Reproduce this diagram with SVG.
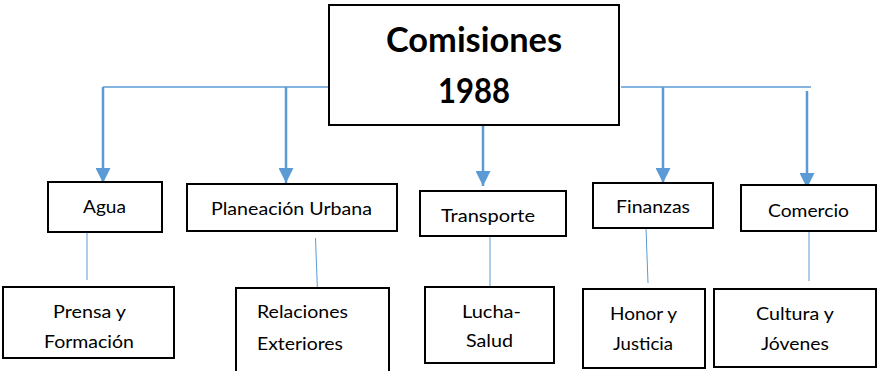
<svg xmlns="http://www.w3.org/2000/svg" width="878" height="371" viewBox="0 0 878 371">
<style>
.box{fill:#fff;stroke:#000;stroke-width:2}
.t{font-family:Lato,"Open Sans","Liberation Sans",sans-serif;font-size:18px;fill:#000;text-anchor:middle}
.h{font-family:Lato,"Open Sans","Liberation Sans",sans-serif;font-size:34px;font-weight:bold;fill:#000;text-anchor:middle}
.main{fill:none;stroke:#5B9BD5;stroke-width:1.5}
.arr{fill:none;stroke:#5B9BD5;stroke-width:2.5;marker-end:url(#ah)}
.thin{fill:none;stroke:#5B9BD5;stroke-width:1}
</style>
<defs>
<marker id="ah" markerUnits="userSpaceOnUse" markerWidth="16" markerHeight="15" refX="15" refY="7.5" orient="auto">
<path d="M0,0 L15,7.5 L0,15 Z" fill="#5B9BD5"/>
</marker>
</defs>
<g id="connectors">
<line class="main" x1="103" y1="87" x2="329" y2="87"/>
<line class="main" x1="621" y1="87" x2="811" y2="87"/>
<line class="arr" x1="103" y1="87" x2="103" y2="183"/>
<line class="arr" x1="286" y1="87" x2="286" y2="183"/>
<line class="arr" x1="483" y1="126" x2="483" y2="186"/>
<line class="arr" x1="663" y1="87" x2="663" y2="183"/>
<line class="arr" x1="807" y1="91" x2="807" y2="188"/>
<line class="thin" x1="87" y1="232" x2="87" y2="280"/>
<line class="thin" x1="315.5" y1="238" x2="317.5" y2="292"/>
<line class="thin" x1="490" y1="236" x2="490" y2="287"/>
<line class="thin" x1="646" y1="228" x2="648" y2="283"/>
<line class="thin" x1="809" y1="221" x2="809" y2="281"/>
</g>
<g id="n-main">
<rect class="box" x="329" y="5" width="290" height="120"/>
<text class="h" x="474" y="52" textLength="176" lengthAdjust="spacingAndGlyphs">Comisiones</text>
<text class="h" x="474" y="103" textLength="72" lengthAdjust="spacingAndGlyphs">1988</text>
</g>
<g id="n-agua">
<rect class="box" x="48" y="182" width="114" height="50"/>
<text class="t" x="104.5" y="213" textLength="43" lengthAdjust="spacingAndGlyphs">Agua</text>
</g>
<g id="n-planeacion">
<rect class="box" x="187" y="184" width="210" height="47"/>
<text class="t" x="291.5" y="215" textLength="161" lengthAdjust="spacingAndGlyphs">Planeación Urbana</text>
</g>
<g id="n-transporte">
<rect class="box" x="420" y="191" width="146" height="45"/>
<text class="t" x="488" y="222" textLength="94" lengthAdjust="spacingAndGlyphs">Transporte</text>
</g>
<g id="n-finanzas">
<rect class="box" x="593" y="183" width="120" height="45"/>
<text class="t" x="653" y="213" textLength="74" lengthAdjust="spacingAndGlyphs">Finanzas</text>
</g>
<g id="n-comercio">
<rect class="box" x="741" y="185" width="135" height="46"/>
<text class="t" x="808.5" y="217" textLength="81" lengthAdjust="spacingAndGlyphs">Comercio</text>
</g>
<g id="n-prensa">
<rect class="box" x="3" y="287" width="171" height="71"/>
<text class="t" x="89.5" y="318" textLength="73" lengthAdjust="spacingAndGlyphs">Prensa y</text>
<text class="t" x="89" y="348" textLength="90" lengthAdjust="spacingAndGlyphs">Formación</text>
</g>
<g id="n-relaciones">
<rect class="box" x="236" y="288" width="153" height="90"/>
<text class="t" x="302.5" y="318" textLength="91" lengthAdjust="spacingAndGlyphs">Relaciones</text>
<text class="t" x="300" y="350" textLength="86" lengthAdjust="spacingAndGlyphs">Exteriores</text>
</g>
<g id="n-lucha">
<rect class="box" x="425" y="287" width="129" height="76"/>
<text class="t" x="491.5" y="318" textLength="59" lengthAdjust="spacingAndGlyphs">Lucha-</text>
<text class="t" x="489.5" y="347" textLength="47" lengthAdjust="spacingAndGlyphs">Salud</text>
</g>
<g id="n-honor">
<rect class="box" x="583" y="289" width="122" height="79"/>
<text class="t" x="643.5" y="320" textLength="67" lengthAdjust="spacingAndGlyphs">Honor y</text>
<text class="t" x="643" y="350" textLength="60" lengthAdjust="spacingAndGlyphs">Justicia</text>
</g>
<g id="n-cultura">
<rect class="box" x="714" y="289" width="162" height="78"/>
<text class="t" x="795" y="320" textLength="78" lengthAdjust="spacingAndGlyphs">Cultura y</text>
<text class="t" x="795" y="350" textLength="68" lengthAdjust="spacingAndGlyphs">Jóvenes</text>
</g>
</svg>
